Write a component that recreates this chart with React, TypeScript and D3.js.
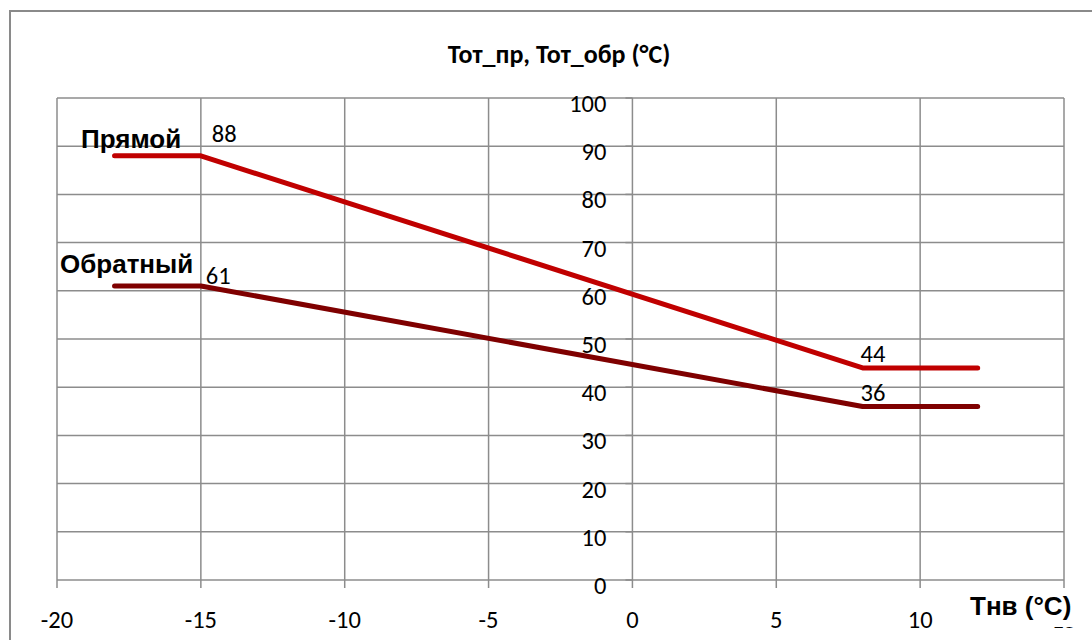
import React from "react";
import * as d3 from "d3";

const xTicks = [-20, -15, -10, -5, 0, 5, 10, 15];
const yTicks = [0, 10, 20, 30, 40, 50, 60, 70, 80, 90, 100];
const tempOutside = [-18, -15, 8, 12];
const supplyTemp = [88, 88, 44, 44];
const returnTemp = [61, 61, 36, 36];
const seriesNames = ["Прямой", "Обратный"];
const chartTitle = "Тот_пр, Тот_обр (°С)";
const xAxisTitle = "Тнв (°С)";

const W = 1092;
const H = 640;
const left = 57, right = 1064, top = 98, bottom = 580;
const FONT = "Carlito, Calibri, Lato, 'Open Sans', sans-serif";
const BOLD_FONT = "'Liberation Sans', Arial, sans-serif";
const GRID = "#8c8c8c";
const TICK_FS = 24.5;

export default function App() {
  const x = d3.scaleLinear().domain([-20, 15]).range([left, right]);
  const y = d3.scaleLinear().domain([0, 100]).range([bottom, top]);
  const line = d3
    .line<[number, number]>()
    .x((d) => x(d[0]))
    .y((d) => y(d[1]));
  const supply = tempOutside.map((t, i) => [t, supplyTemp[i]] as [number, number]);
  const ret = tempOutside.map((t, i) => [t, returnTemp[i]] as [number, number]);

  return (
    <svg
      width={W}
      height={H}
      style={{ position: "absolute", left: 0, top: 0, background: "#fff" }}
    >
      <rect x={0} y={0} width={W} height={H} fill="#fff" />
      {/* outer frame */}
      <path d={`M10,${H + 5} V11 H${W + 5}`} fill="none" stroke="#8a8a8a" strokeWidth={2} />
      {/* grid */}
      {xTicks.map((t) => (
        <line key={"vx" + t} x1={x(t)} x2={x(t)} y1={top} y2={bottom + 8} stroke={GRID} strokeWidth={1.5} />
      ))}
      {yTicks.map((t) => (
        <line key={"hy" + t} x1={left} x2={right} y1={y(t)} y2={y(t)} stroke={GRID} strokeWidth={1.5} />
      ))}
      {yTicks.map((t) => (
        <line key={"ty" + t} x1={x(0) - 7} x2={x(0)} y1={y(t)} y2={y(t)} stroke={GRID} strokeWidth={1.5} />
      ))}
      {/* y tick labels */}
      {yTicks.map((t) => (
        <text
          key={"ly" + t}
          x={x(0) - 26}
          y={y(t) + 14}
          textAnchor="end"
          fontFamily={FONT}
          fontSize={TICK_FS}
          fill="#000"
        >
          {t}
        </text>
      ))}
      {/* x tick labels */}
      {xTicks.map((t) => (
        <text
          key={"lx" + t}
          x={x(t)}
          y={628}
          textAnchor="middle"
          fontFamily={FONT}
          fontSize={TICK_FS}
          fill="#000"
        >
          {t}
        </text>
      ))}
      {/* series */}
      <path d={line(supply) ?? ""} fill="none" stroke="#c00000" strokeWidth={5} strokeLinecap="round" strokeLinejoin="round" />
      <path d={line(ret) ?? ""} fill="none" stroke="#7f0000" strokeWidth={5} strokeLinecap="round" strokeLinejoin="round" />
      {/* data labels */}
      <text x={x(tempOutside[1]) + 11} y={y(supplyTemp[1]) - 14} fontFamily={FONT} fontSize={TICK_FS}>
        {supplyTemp[1]}
      </text>
      <text x={x(tempOutside[1]) + 5} y={y(returnTemp[1]) - 2} fontFamily={FONT} fontSize={TICK_FS}>
        {returnTemp[1]}
      </text>
      <text x={x(tempOutside[2]) - 2} y={y(supplyTemp[2]) - 6} fontFamily={FONT} fontSize={TICK_FS}>
        {supplyTemp[2]}
      </text>
      <text x={x(tempOutside[2]) - 2} y={y(returnTemp[2]) - 5} fontFamily={FONT} fontSize={TICK_FS}>
        {returnTemp[2]}
      </text>
      {/* series name labels */}
      <text x={81} y={148} fontFamily={BOLD_FONT} fontWeight="bold" fontSize={26}>
        {seriesNames[0]}
      </text>
      <text x={60} y={273} fontFamily={BOLD_FONT} fontWeight="bold" fontSize={26}>
        {seriesNames[1]}
      </text>
      {/* title */}
      <text x={559} y={63} textAnchor="middle" fontFamily={FONT} fontWeight="bold" fontSize={26}>
        {chartTitle}
      </text>
      {/* x axis title with white box (partly hides the last tick label, as in the reference) */}
      <rect x={962} y={590} width={120} height={37} fill="#fff" />
      <text x={970} y={615} fontFamily={BOLD_FONT} fontWeight="bold" fontSize={26}>
        {xAxisTitle}
      </text>
    </svg>
  );
}
